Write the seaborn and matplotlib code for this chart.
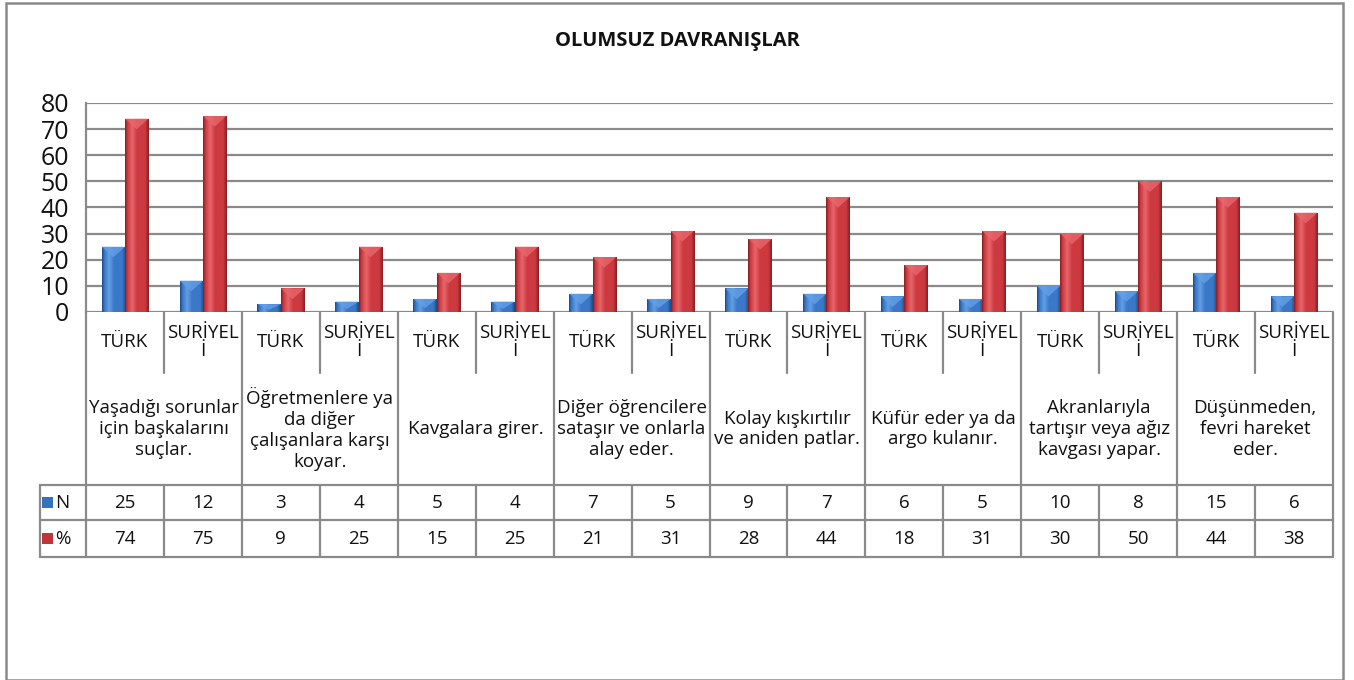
import numpy as np
import pandas as pd
import matplotlib
matplotlib.use("Agg")
import matplotlib.pyplot as plt
import seaborn as sns
from matplotlib.colors import LinearSegmentedColormap
from matplotlib.patches import Polygon, Rectangle

# ----------------------------
# Data
# ----------------------------
title = "OLUMSUZ DAVRANIŞLAR"
categories = [
    "Yaşadığı sorunlar\niçin başkalarını\nsuçlar.",
    "Öğretmenlere ya\nda diğer\nçalışanlara karşı\nkoyar.",
    "Kavgalara girer.",
    "Diğer öğrencilere\nsataşır ve onlarla\nalay eder.",
    "Kolay kışkırtılır\nve aniden patlar.",
    "Küfür eder ya da\nargo kulanır.",
    "Akranlarıyla\ntartışır veya ağız\nkavgası yapar.",
    "Düşünmeden,\nfevri hareket\neder.",
]
groups = ["TÜRK", "SURİYEL\nİ"]
series = ["N", "%"]
n_values = [25, 12, 3, 4, 5, 4, 7, 5, 9, 7, 6, 5, 10, 8, 15, 6]
pct_values = [74, 75, 9, 25, 15, 25, 21, 31, 28, 44, 18, 31, 30, 50, 44, 38]
y_ticks = [0, 10, 20, 30, 40, 50, 60, 70, 80]

colors = {"N": "#3670c0", "%": "#c2343a"}
shades = {
    "N": ("#1f4a85", "#3a78c8", "#64a0e6"),
    "%": ("#861f24", "#cc3a40", "#e8676c"),
}
grid_col = "#8a8a8a"

# ----------------------------
# Long table for seaborn
# ----------------------------
cols = [str(i) for i in range(len(n_values))]
df = pd.DataFrame({
    "col": cols * 2,
    "series": ["N"] * len(cols) + ["%"] * len(cols),
    "value": n_values + pct_values,
})

sns.set_style("white")
plt.rcParams["font.family"] = ["Open Sans", "DejaVu Sans"]

W, H = 1354, 680
fig = plt.figure(figsize=(W / 100, H / 100), dpi=100)

# plot area in pixels
px_left, px_right, px_top, px_bottom = 86, 1333, 103, 312
ax = fig.add_axes([px_left / W, 1 - px_bottom / H,
                   (px_right - px_left) / W, (px_bottom - px_top) / H])
colw = (px_right - px_left) / len(cols)
ppu = (px_bottom - px_top) / 80.0


def ax_y(py):
    return (px_bottom - py) / (px_bottom - px_top)


def ax_x(px):
    return -0.5 + (px - px_left) / colw


sns.barplot(data=df, x="col", y="value", hue="series", order=cols,
            hue_order=series, palette=colors, width=0.6, gap=0,
            legend=False, ax=ax, zorder=3, linewidth=0)

# shaded bars with bevel top
grad = np.linspace(0, 1, 64).reshape(1, -1)
for patch, s in zip(ax.patches, ["N"] * len(cols) + ["%"] * len(cols)):
    dark, mid, light = shades[s]
    cmap = LinearSegmentedColormap.from_list(
        "b", [(0, dark), (0.1, mid), (0.3, light), (0.5, mid), (0.85, mid), (1, dark)])
    x0, y0 = patch.get_x(), patch.get_y()
    w, h = patch.get_width(), patch.get_height()
    im = ax.imshow(grad, cmap=cmap, extent=[x0, x0 + w, y0, y0 + h],
                   aspect="auto", zorder=3.2, interpolation="bilinear")
    im.set_clip_path(patch)
    depth = min(w * colw / 2.2 / ppu, h * 0.7)
    top = y0 + h
    ax.add_patch(Polygon([(x0, top), (x0 + w, top), (x0 + w / 2, top - depth)],
                         closed=True, facecolor=light, alpha=0.8,
                         edgecolor="none", zorder=3.4))

ax.set_xlim(-0.5, len(cols) - 0.5)
ax.set_ylim(0, 80)
ax.set_yticks(y_ticks)
ax.tick_params(axis="y", length=0, pad=12, labelsize=18, labelcolor="#111111")
ax.set_xticks([])
ax.set_xlabel("")
ax.set_ylabel("")
ax.yaxis.grid(True, color=grid_col, linewidth=1.6)
ax.set_axisbelow(True)
for side in ["top", "right", "bottom"]:
    ax.spines[side].set_visible(False)
ax.spines["left"].set_color(grid_col)
ax.spines["left"].set_linewidth(1.6)

# ----------------------------
# Data table below the axis
# ----------------------------
xt = ax.get_xaxis_transform()
line_kw = dict(color=grid_col, linewidth=1.6, transform=xt, clip_on=False)
row_ser, row_cat, row_n, row_p, row_end = 312, 373, 485, 520, 557
leg_left = ax_x(40)
x_end = len(cols) - 0.5

for py in [row_n, row_p, row_end]:
    ax.plot([leg_left, x_end], [ax_y(py)] * 2, **line_kw)
ax.plot([leg_left, leg_left], [ax_y(row_n), ax_y(row_end)], **line_kw)
for k in range(len(cols) + 1):
    xb = k - 0.5
    if k % 2 == 0:
        ax.plot([xb, xb], [ax_y(row_ser), ax_y(row_end)], **line_kw)
    else:
        ax.plot([xb, xb], [ax_y(row_ser), ax_y(row_cat)], **line_kw)
        ax.plot([xb, xb], [ax_y(row_n), ax_y(row_end)], **line_kw)

txt_kw = dict(transform=xt, ha="center", va="center", fontsize=13.5,
              color="#111111", clip_on=False)
for i in range(len(cols)):
    ax.text(i, ax_y(342), groups[i % 2], linespacing=1.05, **txt_kw)
    ax.text(i, ax_y(503), str(n_values[i]), **txt_kw)
    ax.text(i, ax_y(539), str(pct_values[i]), **txt_kw)
for j, cat in enumerate(categories):
    ax.text(2 * j + 0.5, ax_y(429), cat, linespacing=1.2, **txt_kw)

# legend keys in the table
for py, s in [(503, "N"), (539, "%")]:
    ax.add_patch(Rectangle((ax_x(42), ax_y(py + 5)), 11 / colw, 11 / (px_bottom - px_top),
                           transform=xt, facecolor=colors[s], edgecolor="none",
                           clip_on=False))
    ax.text(ax_x(55), ax_y(py), s, transform=xt, ha="left", va="center",
            fontsize=13.5, color="#111111", clip_on=False)

# title and outer frame
fig.text(677 / W, 1 - 41 / H, title, ha="center", va="center",
         fontsize=14.5, fontweight="bold", color="#111111")
fig.add_artist(Rectangle((6 / W, 0), 1337 / W, 1 - 3 / H, transform=fig.transFigure,
                         fill=False, edgecolor="#8a8a8a", linewidth=1.8))

fig.savefig("out.png", dpi=100)
